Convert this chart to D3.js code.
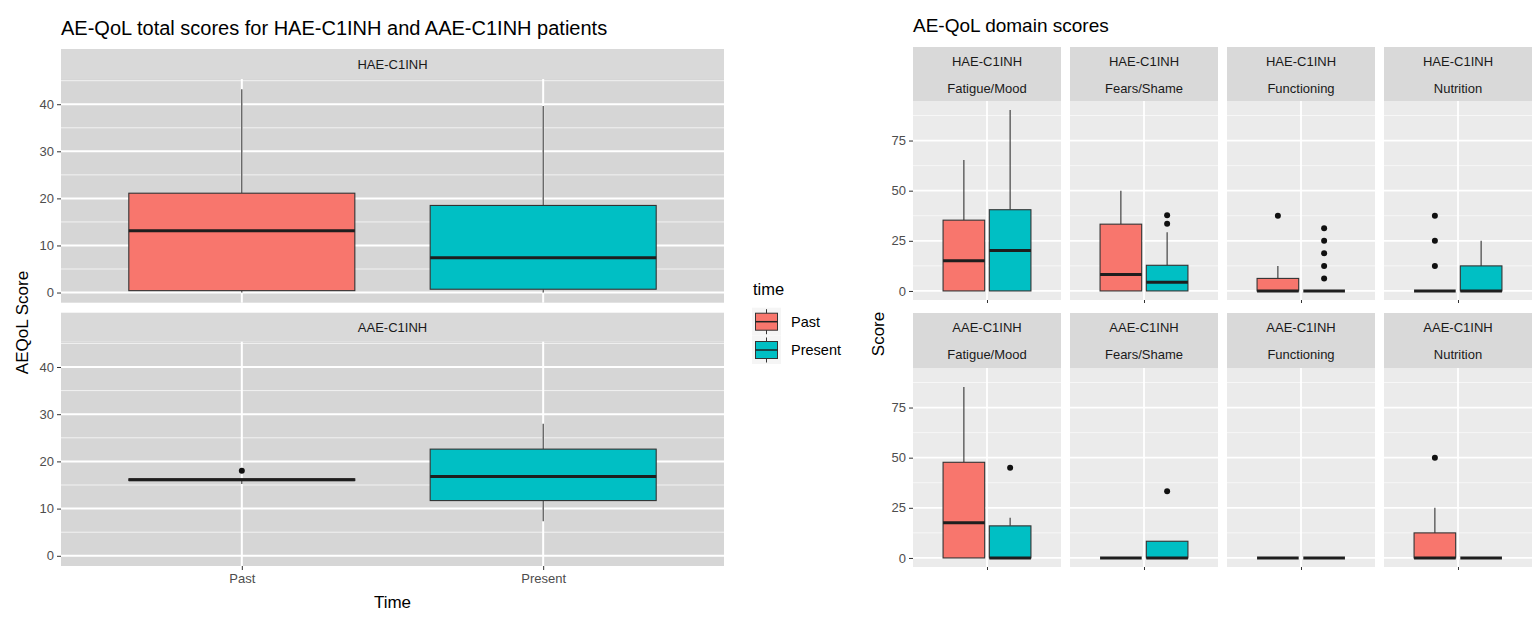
<!DOCTYPE html>
<html>
<head>
<meta charset="utf-8">
<script src="https://cdn.jsdelivr.net/npm/d3@7"></script>
<style>
  html, body { margin: 0; padding: 0; background: #fff; }
  svg { display: block; font-family: "Liberation Sans", Arial, sans-serif; }
</style>
</head>
<body>
<svg id="chart" width="1535" height="619"></svg>
<script>
// ---------------- DATA ----------------
const timeLevels = ["Past", "Present"];
const groups = ["HAE-C1INH", "AAE-C1INH"];
const domains = ["Fatigue/Mood", "Fears/Shame", "Functioning", "Nutrition"];
const timeColors = ["#F8766D", "#00BFC4"];

// Total scores: [min, q1, median, q3, max] for Past, Present
const totalHAE = [[0, 0.4, 13.1, 21.1, 43.2], [0, 0.7, 7.4, 18.5, 39.6]];
const totalAAE = [[15.2, 15.95, 16.1, 16.3, 16.3], [7.3, 11.7, 16.8, 22.6, 28.0]];
const totalOutHAE = [[], []];
const totalOutAAE = [[18.0], []];
const totalTicks = [0, 10, 20, 30, 40];

// Domain scores: [min, q1, median, q3, max] per domain (Fatigue/Mood, Fears/Shame, Functioning, Nutrition)
const domHAEPast    = [[0, 0, 15.0, 35.3, 65.3], [0, 0, 8.2, 33.3, 50.0], [0, 0, 0, 6.25, 12.5], [0, 0, 0, 0, 0]];
const domHAEPresent = [[0, 0, 20.2, 40.5, 90.2], [0, 0, 4.3, 12.8, 29.3], [0, 0, 0, 0, 0], [0, 0, 0, 12.5, 25.0]];
const domAAEPast    = [[0, 0, 17.5, 47.7, 85.2], [0, 0, 0, 0, 0], [0, 0, 0, 0, 0], [0, 0, 0, 12.5, 25.0]];
const domAAEPresent = [[0, 0, 0, 16.0, 20.0], [0, 0, 0, 8.33, 8.33], [0, 0, 0, 0, 0], [0, 0, 0, 0, 0]];
const outHAEPast    = [[], [], [37.5], [37.5, 25.0, 12.5]];
const outHAEPresent = [[], [37.7, 33.5], [31.25, 25.0, 18.75, 12.5, 6.25], []];
const outAAEPast    = [[], [], [], [50.0]];
const outAAEPresent = [[45.0], [33.3], [], []];
const domainTicks = [0, 25, 50, 75];

// ---------------- DRAWING ----------------
const svg = d3.select("#chart");
const FONT = "'Liberation Sans', Arial, sans-serif";
const BOX_STROKE = "#333333";

function drawBox(g, xc, w, stats, outs, y, color) {
  const [mn, q1, med, q3, mx] = stats;
  g.append("line").attr("x1", xc).attr("x2", xc).attr("y1", y(q3)).attr("y2", y(mx))
    .attr("stroke", BOX_STROKE).attr("stroke-width", 1.1);
  g.append("line").attr("x1", xc).attr("x2", xc).attr("y1", y(q1)).attr("y2", y(mn))
    .attr("stroke", BOX_STROKE).attr("stroke-width", 1.1);
  g.append("rect").attr("x", xc - w / 2).attr("width", w)
    .attr("y", y(q3)).attr("height", Math.max(0, y(q1) - y(q3)))
    .attr("fill", color).attr("stroke", BOX_STROKE).attr("stroke-width", 1.1);
  g.append("line").attr("x1", xc - w / 2).attr("x2", xc + w / 2)
    .attr("y1", y(med)).attr("y2", y(med))
    .attr("stroke", "#1E1E1E").attr("stroke-width", 3);
  outs.forEach(v => {
    g.append("circle").attr("cx", xc).attr("cy", y(v)).attr("r", 3).attr("fill", "#111");
  });
}

// ===== LEFT CHART =====
const L = { x0: 61, x1: 724 };
const leftRows = [
  { strip: [49, 79], panel: [79, 302.7], stats: totalHAE, outs: totalOutHAE, label: groups[0] },
  { strip: [312.7, 341.7], panel: [341.7, 566], stats: totalAAE, outs: totalOutAAE, label: groups[1] }
];
const allTotal = [...totalHAE.flat(), ...totalAAE.flat(), ...totalOutAAE.flat()];
const tMax = d3.max(allTotal), tMin = 0;
const tExp = (tMax - tMin) * 0.05;
const xL = d3.scaleLinear().domain([0.4, 2.6]).range([L.x0, L.x1]);
const unitL = xL(2) - xL(1);

svg.append("text").attr("x", 61).attr("y", 35).attr("font-size", 20).attr("fill", "#000")
  .attr("font-family", FONT).text("AE-QoL total scores for HAE-C1INH and AAE-C1INH patients");

leftRows.forEach(row => {
  const y = d3.scaleLinear().domain([tMin - tExp, tMax + tExp]).range([row.panel[1], row.panel[0]]);
  const g = svg.append("g");
  g.append("rect").attr("x", L.x0).attr("y", row.strip[0]).attr("width", L.x1 - L.x0)
    .attr("height", row.strip[1] - row.strip[0]).attr("fill", "#D9D9D9");
  g.append("text").attr("x", (L.x0 + L.x1) / 2).attr("y", (row.strip[0] + row.strip[1]) / 2)
    .attr("dy", "0.35em").attr("text-anchor", "middle").attr("font-size", 13)
    .attr("fill", "#1A1A1A").attr("font-family", FONT).text(row.label);
  g.append("rect").attr("x", L.x0).attr("y", row.panel[0]).attr("width", L.x1 - L.x0)
    .attr("height", row.panel[1] - row.panel[0]).attr("fill", "#D6D6D6");
  const minor = d3.range(5, 50, 10);
  minor.forEach(v => {
    if (y(v) >= row.panel[0] && y(v) <= row.panel[1])
      g.append("line").attr("x1", L.x0).attr("x2", L.x1).attr("y1", y(v)).attr("y2", y(v))
        .attr("stroke", "#F2F2F2").attr("stroke-width", 1);
  });
  totalTicks.forEach(v => {
    g.append("line").attr("x1", L.x0).attr("x2", L.x1).attr("y1", y(v)).attr("y2", y(v))
      .attr("stroke", "#fff").attr("stroke-width", 2);
  });
  [1, 2].forEach(i => {
    g.append("line").attr("x1", xL(i)).attr("x2", xL(i)).attr("y1", row.panel[0]).attr("y2", row.panel[1])
      .attr("stroke", "#fff").attr("stroke-width", 2);
  });
  timeLevels.forEach((t, i) => {
    drawBox(g, xL(i + 1), unitL * 0.75, row.stats[i], row.outs[i], y, timeColors[i]);
  });
  const ax = d3.axisLeft(y).tickValues(totalTicks).tickSize(4).tickPadding(3);
  const axg = svg.append("g").attr("transform", `translate(${L.x0},0)`).call(ax);
  axg.select(".domain").remove();
  axg.selectAll("line").attr("stroke", "#333");
  axg.selectAll("text").attr("font-size", 13).attr("fill", "#4D4D4D").attr("font-family", FONT);
});
{
  const ax = d3.axisBottom(xL).tickValues([1, 2]).tickFormat(d => timeLevels[d - 1]).tickSize(4).tickPadding(4);
  const axg = svg.append("g").attr("transform", `translate(0,566)`).call(ax);
  axg.select(".domain").remove();
  axg.selectAll("line").attr("stroke", "#333");
  axg.selectAll("text").attr("font-size", 13).attr("fill", "#4D4D4D").attr("font-family", FONT);
}
svg.append("text").attr("x", (L.x0 + L.x1) / 2).attr("y", 608).attr("text-anchor", "middle")
  .attr("font-size", 17).attr("font-family", FONT).attr("fill", "#000").text("Time");
svg.append("text").attr("transform", `translate(28,${(79 + 566) / 2}) rotate(-90)`)
  .attr("text-anchor", "middle").attr("font-size", 17).attr("font-family", FONT)
  .attr("fill", "#000").text("AEQoL Score");

// ===== LEGEND =====
svg.append("text").attr("x", 753).attr("y", 295).attr("font-size", 16.5).attr("font-family", FONT)
  .attr("fill", "#000").text("time");
timeLevels.forEach((t, i) => {
  const cy = 321.7 + i * 28.3;
  const cx = 766.5;
  const g = svg.append("g");
  g.append("rect").attr("x", 752).attr("y", cy - 14).attr("width", 29).attr("height", 28).attr("fill", "#F5F5F5");
  g.append("line").attr("x1", cx).attr("x2", cx).attr("y1", cy - 12.5).attr("y2", cy + 12.5)
    .attr("stroke", BOX_STROKE).attr("stroke-width", 1);
  g.append("rect").attr("x", 755.5).attr("y", cy - 8.5).attr("width", 22).attr("height", 17)
    .attr("fill", timeColors[i]).attr("stroke", BOX_STROKE).attr("stroke-width", 1);
  g.append("line").attr("x1", 755.5).attr("x2", 777.5).attr("y1", cy).attr("y2", cy)
    .attr("stroke", "#222").attr("stroke-width", 1.5);
  svg.append("text").attr("x", 791).attr("y", cy).attr("dy", "0.35em").attr("font-size", 14.5)
    .attr("font-family", FONT).attr("fill", "#000").text(t);
});

// ===== RIGHT CHART =====
svg.append("text").attr("x", 913).attr("y", 32).attr("font-size", 19).attr("fill", "#000")
  .attr("font-family", FONT).text("AE-QoL domain scores");

const panelX = [[913, 1061], [1070, 1218], [1227, 1375], [1384, 1532]];
const rightRows = [
  { strip: [47, 101], panel: [101, 300], group: groups[0],
    stats: [domHAEPast, domHAEPresent], outs: [outHAEPast, outHAEPresent] },
  { strip: [313, 368], panel: [368, 567], group: groups[1],
    stats: [domAAEPast, domAAEPresent], outs: [outAAEPast, outAAEPresent] }
];
const allDom = [domHAEPast, domHAEPresent, domAAEPast, domAAEPresent].flat(2)
  .concat([outHAEPast, outHAEPresent, outAAEPast, outAAEPresent].flat(2));
const dMax = d3.max(allDom);
const dExp = dMax * 0.05;

rightRows.forEach(row => {
  const y = d3.scaleLinear().domain([-dExp, dMax + dExp]).range([row.panel[1], row.panel[0]]);
  domains.forEach((dom, di) => {
    const [px0, px1] = panelX[di];
    const x = d3.scaleLinear().domain([0.4, 1.6]).range([px0, px1]);
    const unit = x(1) - x(0);
    const g = svg.append("g");
    g.append("rect").attr("x", px0).attr("y", row.strip[0]).attr("width", px1 - px0)
      .attr("height", row.strip[1] - row.strip[0]).attr("fill", "#D9D9D9");
    const sMid = (row.strip[0] + row.strip[1]) / 2;
    g.append("text").attr("x", (px0 + px1) / 2).attr("y", sMid - 13).attr("dy", "0.35em")
      .attr("text-anchor", "middle").attr("font-size", 13).attr("fill", "#1A1A1A")
      .attr("font-family", FONT).text(row.group);
    g.append("text").attr("x", (px0 + px1) / 2).attr("y", sMid + 14).attr("dy", "0.35em")
      .attr("text-anchor", "middle").attr("font-size", 13).attr("fill", "#1A1A1A")
      .attr("font-family", FONT).text(dom);
    g.append("rect").attr("x", px0).attr("y", row.panel[0]).attr("width", px1 - px0)
      .attr("height", row.panel[1] - row.panel[0]).attr("fill", "#EBEBEB");
    [12.5, 37.5, 62.5, 87.5].forEach(v => {
      g.append("line").attr("x1", px0).attr("x2", px1).attr("y1", y(v)).attr("y2", y(v))
        .attr("stroke", "#F7F7F7").attr("stroke-width", 1);
    });
    domainTicks.forEach(v => {
      g.append("line").attr("x1", px0).attr("x2", px1).attr("y1", y(v)).attr("y2", y(v))
        .attr("stroke", "#fff").attr("stroke-width", 1.8);
    });
    g.append("line").attr("x1", x(1)).attr("x2", x(1)).attr("y1", row.panel[0]).attr("y2", row.panel[1])
      .attr("stroke", "#fff").attr("stroke-width", 1.8);
    timeLevels.forEach((t, ti) => {
      const xc = x(1) + (ti === 0 ? -1 : 1) * 0.1875 * unit;
      drawBox(g, xc, 0.375 * 0.9 * unit, row.stats[ti][di], row.outs[ti][di], y, timeColors[ti]);
    });
    const ax = d3.axisBottom(x).tickValues([1]).tickFormat("").tickSize(3);
    const axg = svg.append("g").attr("transform", `translate(0,${row.panel[1]})`).call(ax);
    axg.select(".domain").remove();
    axg.selectAll("line").attr("stroke", "#333");
  });
  const ay = d3.axisLeft(y).tickValues(domainTicks).tickSize(4).tickPadding(3);
  const ayg = svg.append("g").attr("transform", `translate(${panelX[0][0]},0)`).call(ay);
  ayg.select(".domain").remove();
  ayg.selectAll("line").attr("stroke", "#333");
  ayg.selectAll("text").attr("font-size", 13).attr("fill", "#4D4D4D").attr("font-family", FONT);
});
svg.append("text").attr("transform", `translate(884,${(101 + 567) / 2}) rotate(-90)`)
  .attr("text-anchor", "middle").attr("font-size", 17).attr("font-family", FONT)
  .attr("fill", "#000").text("Score");
</script>
</body>
</html>
